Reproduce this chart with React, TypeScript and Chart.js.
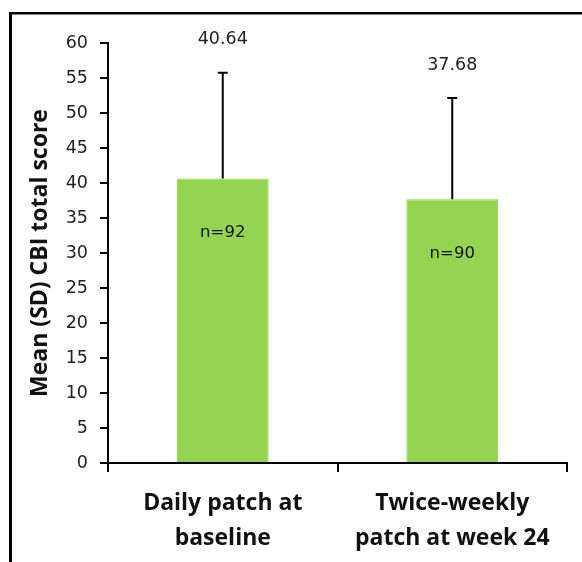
import React, { useEffect, useRef } from "react";
import { Chart, registerables } from "chart.js";

Chart.register(...registerables);

const categories: string[][] = [
  ["Daily patch at", "baseline"],
  ["Twice-weekly", "patch at week 24"],
];
const means: number[] = [40.64, 37.68];
const sds: number[] = [15.1, 14.45];
const nLabels: string[] = ["n=92", "n=90"];
const yTicksMin = 0;
const yTicksMax = 60;
const yStep = 5;
const yTitle = "Mean (SD) CBI total score";

const overlayPlugin = {
  id: "overlay",
  beforeDraw(chart: any) {
    const ctx = chart.ctx;
    ctx.save();
    ctx.fillStyle = "#000";
    ctx.fillRect(9, 12, 3, 550);
    ctx.fillRect(9, 12, 573, 2.5);
    ctx.restore();
  },
  afterDatasetsDraw(chart: any) {
    const ctx = chart.ctx;
    const meta = chart.getDatasetMeta(0);
    const y = chart.scales.y;
    ctx.save();
    meta.data.forEach((bar: any, i: number) => {
      const x = bar.x;
      const top = y.getPixelForValue(means[i] + sds[i]);
      const base = y.getPixelForValue(means[i]);
      ctx.strokeStyle = "#000";
      ctx.lineWidth = 2;
      ctx.beginPath();
      ctx.moveTo(x, base);
      ctx.lineTo(x, top);
      ctx.moveTo(x - 5, top);
      ctx.lineTo(x + 5, top);
      ctx.stroke();
      ctx.fillStyle = "#222";
      ctx.font = "17.5px 'DejaVu Sans'";
      ctx.textAlign = "center";
      ctx.textBaseline = "middle";
      ctx.fillText(means[i].toFixed(2), x, top - 33);
      ctx.fillStyle = "#111";
      ctx.font = "16.5px 'DejaVu Sans'";
      ctx.fillText(nLabels[i], x, base + 54);
    });
    ctx.restore();
  },
};

export default function App() {
  const ref = useRef<HTMLCanvasElement>(null);
  useEffect(() => {
    if (!ref.current) return;
    const chart = new Chart(ref.current, {
      type: "bar",
      data: {
        labels: categories,
        datasets: [
          {
            data: means,
            backgroundColor: "#94D452",
            borderColor: "#8ccf48",
            borderWidth: 1,
            barPercentage: 1,
            categoryPercentage: 0.4,
          },
        ],
      },
      options: {
        responsive: false,
        animation: false,
        layout: { padding: { top: 43, right: 15, left: 0, bottom: 0 } },
        plugins: {
          legend: { display: false },
          tooltip: { enabled: false },
        },
        scales: {
          x: {
            afterFit: (s: any) => {
              s.height = 99;
            },
            grid: {
              offset: true,
              drawOnChartArea: false,
              drawTicks: true,
              tickLength: 9,
              color: "#000",
              lineWidth: 2,
            },
            border: { display: true, color: "#000", width: 2 },
            ticks: {
              color: "#111",
              padding: 14,
              font: { family: "'Open Sans'", size: 23, weight: "bold", lineHeight: 1.52 },
              maxRotation: 0,
            },
          },
          y: {
            min: yTicksMin,
            max: yTicksMax,
            afterFit: (s: any) => {
              s.width = 108;
            },
            grid: {
              drawOnChartArea: false,
              drawTicks: true,
              tickLength: 8,
              color: "#000",
              lineWidth: 2,
            },
            border: { display: true, color: "#000", width: 2 },
            ticks: {
              stepSize: yStep,
              color: "#222",
              padding: 12,
              font: { family: "'DejaVu Sans'", size: 17.5 },
            },
            title: {
              display: true,
              text: yTitle,
              color: "#111",
              font: { family: "'Open Sans'", size: 23, weight: "bold" },
              padding: { top: 27, bottom: 0 },
            },
          },
        },
      },
      plugins: [overlayPlugin],
    } as any);
    return () => chart.destroy();
  }, []);
  return (
    <div style={{ position: "absolute", left: 0, top: 0, width: 582, height: 562, background: "#fff" }}>
      <canvas ref={ref} width={582} height={562} style={{ display: "block" }} />
    </div>
  );
}
